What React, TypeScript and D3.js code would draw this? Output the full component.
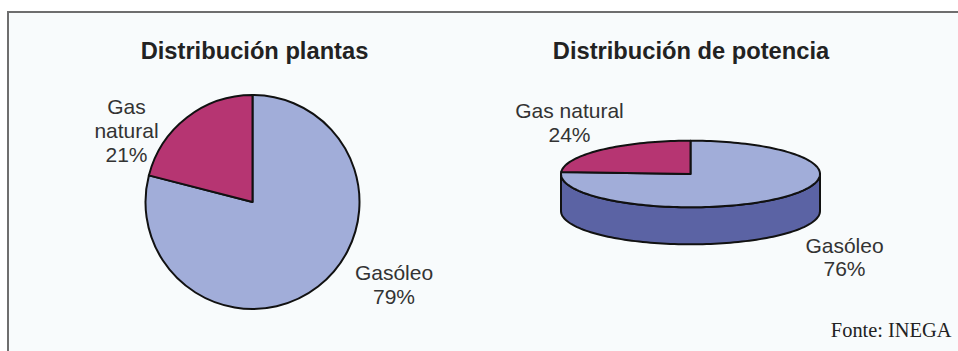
import React from "react";
import * as d3 from "d3";

// Plant count share by fuel
const plantLabels = ["Gasóleo", "Gas natural"];
const plantValues = [79, 21];

// Installed power share by fuel
const powerLabels = ["Gasóleo", "Gas natural"];
const powerValues = [76, 24];

const titles = ["Distribución plantas", "Distribución de potencia"];
const sourceNote = "Fonte: INEGA";

const topColors = ["#a1add9", "#b63572"];
const sideColors = ["#5b63a4", "#7a1f4a"];

const W = 958;
const H = 351;

const FONT = "'Liberation Sans', Arial, Helvetica, sans-serif";

function ellipsePoint(cx: number, cy: number, rx: number, ry: number, a: number, dy = 0): [number, number] {
  return [cx + rx * Math.sin(a), cy - ry * Math.cos(a) + dy];
}

function FlatPie() {
  const cx = 252.5;
  const cy = 202;
  const r = 107;
  const pie = d3.pie<number>().sort(null).value((d) => d);
  const arcs = pie(plantValues);
  const arc = d3.arc<d3.PieArcDatum<number>>().innerRadius(0).outerRadius(r);
  return (
    <g transform={`translate(${cx},${cy})`}>
      {arcs.map((a, i) => (
        <path key={i} d={arc(a) || ""} fill={topColors[i]} stroke="#111" strokeWidth={2} strokeLinejoin="round" />
      ))}
    </g>
  );
}

function TiltedPie() {
  const cx = 690.5;
  const cy = 174;
  const rx = 129.5;
  const ry = 33.3;
  const depth = 37;
  const pie = d3.pie<number>().sort(null).value((d) => d);
  const arcs = pie(powerValues);
  const line = d3.line();

  const samples = (s: number, e: number, dy = 0) => {
    const n = Math.max(2, Math.ceil(((e - s) / (2 * Math.PI)) * 200));
    return d3.range(n + 1).map((k) => ellipsePoint(cx, cy, rx, ry, s + ((e - s) * k) / n, dy));
  };

  // Visible side walls: the part of each slice on the front half of the ellipse
  const sides = arcs
    .map((a, i) => {
      const s = Math.max(a.startAngle, Math.PI / 2);
      const e = Math.min(a.endAngle, (3 * Math.PI) / 2);
      if (e <= s) return null;
      const top = samples(s, e);
      const bottom = samples(s, e, depth).reverse();
      return { i, d: (line([...top, ...bottom]) || "") + "Z" };
    })
    .filter(Boolean) as { i: number; d: string }[];

  const tops = arcs.map((a, i) => {
    const pts = samples(a.startAngle, a.endAngle);
    return { i, d: (line([[cx, cy], ...pts]) || "") + "Z" };
  });

  return (
    <g>
      {sides.map((s) => (
        <path key={"s" + s.i} d={s.d} fill={sideColors[s.i]} stroke="#111" strokeWidth={2} strokeLinejoin="round" />
      ))}
      {tops.map((t) => (
        <path key={"t" + t.i} d={t.d} fill={topColors[t.i]} stroke="#111" strokeWidth={2} strokeLinejoin="round" />
      ))}
    </g>
  );
}

function Label({ x, y, lines }: { x: number; y: number; lines: string[] }) {
  return (
    <text x={x} y={y} textAnchor="middle" fontFamily={FONT} fontSize={21} fill="#333">
      {lines.map((l, k) => (
        <tspan key={k} x={x} dy={k === 0 ? 0 : 23.8}>
          {l}
        </tspan>
      ))}
    </text>
  );
}

export default function App() {
  return (
    <svg width={W} height={H} style={{ position: "absolute", left: 0, top: 0 }} xmlns="http://www.w3.org/2000/svg">
      <rect x={0} y={0} width={W} height={H} fill="#ffffff" />
      <rect x={8} y={12} width={W} height={H} fill="#f8fbfc" />
      <line x1={7} y1={12} x2={W} y2={12} stroke="#6e6e6e" strokeWidth={2} />
      <line x1={8} y1={11} x2={8} y2={H} stroke="#6e6e6e" strokeWidth={2} />

      <text x={254.5} y={58.5} textAnchor="middle" fontFamily={FONT} fontWeight="bold" fontSize={23.7} fill="#222">
        {titles[0]}
      </text>
      <text x={691} y={58.5} textAnchor="middle" fontFamily={FONT} fontWeight="bold" fontSize={23.7} fill="#222">
        {titles[1]}
      </text>

      <FlatPie />
      <TiltedPie />

      <Label x={126.5} y={114} lines={["Gas", "natural", `${plantValues[1]}%`]} />
      <Label x={394} y={280} lines={[plantLabels[0], `${plantValues[0]}%`]} />
      <Label x={569.5} y={118} lines={[powerLabels[1], `${powerValues[1]}%`]} />
      <Label x={844.5} y={252.5} lines={[powerLabels[0], `${powerValues[0]}%`]} />

      <text x={951.5} y={336.5} textAnchor="end" fontFamily="'Liberation Serif', 'Times New Roman', serif" fontSize={20.4} fill="#222">
        {sourceNote}
      </text>
    </svg>
  );
}
